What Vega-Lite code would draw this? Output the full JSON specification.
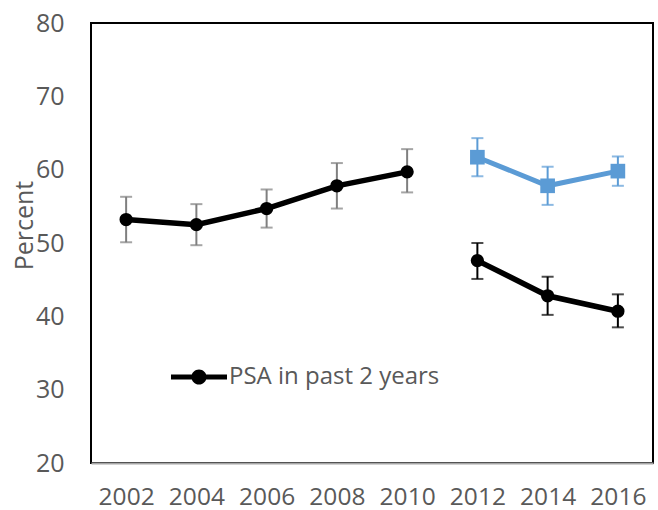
{
  "$schema": "https://vega.github.io/schema/vega-lite/v6.json",
  "width": 562,
  "height": 440,
  "autosize": "none",
  "padding": {"left": 91, "top": 23, "right": 5, "bottom": 47},
  "background": "white",
  "config": {
    "view": {"stroke": "#000000", "strokeWidth": 2},
    "font": "Open Sans",
    "axis": {"grid": false, "ticks": false, "labelFont": "Open Sans", "labelColor": "#595959", "titleFont": "Open Sans", "titleColor": "#595959", "titleFontWeight": "normal"},
    "axisX": {"title": null, "labelAngle": 0, "labelFontSize": 24.5, "labelPadding": 22, "domainColor": "#A6A6A6", "domainWidth": 2},
    "axisY": {"labelFontSize": 25, "labelPadding": 27, "domain": false, "titleFontSize": 25, "titleAngle": -90, "titleX": -59, "titleY": 202, "titleBaseline": "alphabetic", "titleAlign": "center"}
  },
  "data": {
    "values": [
      {"year": 2002, "series": "PSA in past 2 years", "pct": 53.2, "lo": 50.1, "hi": 56.3},
      {"year": 2004, "series": "PSA in past 2 years", "pct": 52.5, "lo": 49.7, "hi": 55.3},
      {"year": 2006, "series": "PSA in past 2 years", "pct": 54.7, "lo": 52.1, "hi": 57.3},
      {"year": 2008, "series": "PSA in past 2 years", "pct": 57.8, "lo": 54.7, "hi": 60.9},
      {"year": 2010, "series": "PSA in past 2 years", "pct": 59.7, "lo": 56.9, "hi": 62.8},
      {"year": 2012, "series": "PSA in past 2 years", "pct": 47.6, "lo": 45.1, "hi": 50.0},
      {"year": 2014, "series": "PSA in past 2 years", "pct": 42.8, "lo": 40.2, "hi": 45.4},
      {"year": 2016, "series": "PSA in past 2 years", "pct": 40.7, "lo": 38.5, "hi": 43.0},
      {"year": 2012, "series": "PSA ever", "pct": 61.7, "lo": 59.1, "hi": 64.3},
      {"year": 2014, "series": "PSA ever", "pct": 57.8, "lo": 55.2, "hi": 60.4},
      {"year": 2016, "series": "PSA ever", "pct": 59.8, "lo": 57.8, "hi": 61.8}
    ]
  },
  "encoding": {
    "x": {
      "field": "year", "type": "ordinal",
      "scale": {"type": "point", "padding": 0.5}
    },
    "y": {
      "field": "pct", "type": "quantitative",
      "scale": {"domain": [20, 80], "nice": false, "zero": false},
      "axis": {"title": "Percent", "values": [20, 30, 40, 50, 60, 70, 80]}
    }
  },
  "layer": [
    {
      "mark": {"type": "rule", "strokeWidth": 2},
      "encoding": {
        "y": {"field": "lo", "type": "quantitative", "axis": {"title": "Percent", "values": [20, 30, 40, 50, 60, 70, 80]}},
        "y2": {"field": "hi"},
        "color": {
          "condition": [
            {"test": "datum.year < 2012", "value": "#7F7F7F"},
            {"test": "datum.series === 'PSA ever'", "value": "#5B9BD5"}
          ],
          "value": "#000000"
        }
      }
    },
    {
      "mark": {"type": "tick", "size": 12, "thickness": 2},
      "encoding": {
        "y": {"field": "lo", "type": "quantitative", "axis": {"title": "Percent", "values": [20, 30, 40, 50, 60, 70, 80]}},
        "color": {
          "condition": [
            {"test": "datum.year < 2012", "value": "#7F7F7F"},
            {"test": "datum.series === 'PSA ever'", "value": "#5B9BD5"}
          ],
          "value": "#000000"
        }
      }
    },
    {
      "mark": {"type": "tick", "size": 12, "thickness": 2},
      "encoding": {
        "y": {"field": "hi", "type": "quantitative", "axis": {"title": "Percent", "values": [20, 30, 40, 50, 60, 70, 80]}},
        "color": {
          "condition": [
            {"test": "datum.year < 2012", "value": "#7F7F7F"},
            {"test": "datum.series === 'PSA ever'", "value": "#5B9BD5"}
          ],
          "value": "#000000"
        }
      }
    },
    {
      "transform": [{"filter": "datum.series === 'PSA in past 2 years' && datum.year <= 2010"}],
      "mark": {"type": "line", "strokeWidth": 5.5, "color": "#000000"},
      "encoding": {}
    },
    {
      "transform": [{"filter": "datum.series === 'PSA in past 2 years' && datum.year >= 2012"}],
      "mark": {"type": "line", "strokeWidth": 5.5, "color": "#000000"},
      "encoding": {}
    },
    {
      "transform": [{"filter": "datum.series === 'PSA ever'"}],
      "mark": {"type": "line", "strokeWidth": 5, "color": "#5B9BD5"},
      "encoding": {}
    },
    {
      "transform": [{"filter": "datum.series === 'PSA ever'"}],
      "mark": {"type": "point", "shape": "square", "filled": true, "opacity": 1, "size": 215, "color": "#5B9BD5"},
      "encoding": {}
    },
    {
      "transform": [{"filter": "datum.series === 'PSA in past 2 years'"}],
      "mark": {"type": "point", "shape": "circle", "filled": true, "opacity": 1, "size": 177},
      "encoding": {
        "color": {
          "field": "series", "type": "nominal",
          "scale": {"domain": ["PSA in past 2 years"], "range": ["#000000"]},
          "legend": {
            "title": null,
            "orient": "none",
            "legendX": 80,
            "legendY": 326,
            "padding": 0,
            "symbolType": "M-1,-0.09H1V0.09H-1Z M-0.27,0A0.27,0.27 0 1,1 0.27,0A0.27,0.27 0 1,1 -0.27,0Z",
            "symbolSize": 3136,
            "symbolStrokeWidth": 0,
            "symbolOpacity": 1,
            "labelFont": "Open Sans",
            "labelFontSize": 24,
            "labelLimit": 400,
            "labelColor": "#595959",
            "labelOffset": 2
          }
        }
      }
    }
  ]
}
